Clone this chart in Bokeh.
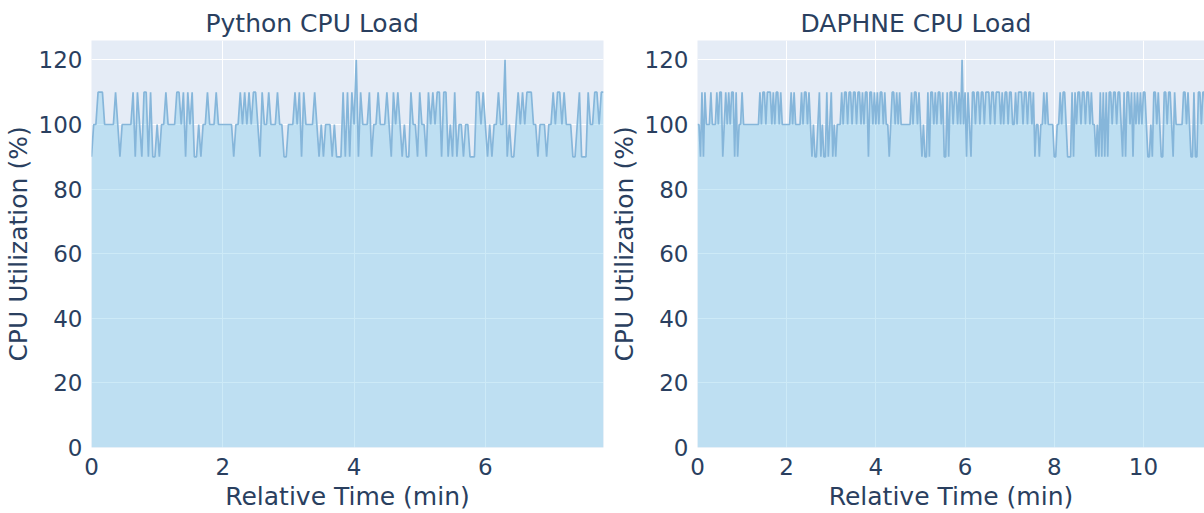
from bokeh.plotting import figure
from bokeh.layouts import row
from bokeh.models import FixedTicker, Range1d
from bokeh.embed import file_html
from bokeh.resources import INLINE

# Sampling interval of the monitoring data (seconds)
SAMPLE_SEC = 2

python_cpu = [
    90, 100, 100, 110, 110, 110, 100, 100, 100, 100,
    100, 110, 100, 90, 100, 100, 100, 100, 100, 110,
    90, 110, 100, 90, 110, 110, 90, 110, 90, 90,
    100, 90, 100, 100, 110, 100, 100, 100, 100, 110,
    110, 100, 110, 90, 110, 100, 110, 90, 90, 100,
    90, 100, 100, 110, 100, 100, 100, 110, 100, 100,
    100, 100, 100, 100, 100, 90, 100, 100, 110, 100,
    110, 100, 110, 100, 110, 110, 100, 90, 110, 100,
    100, 110, 100, 100, 100, 110, 100, 100, 90, 90,
    100, 100, 100, 110, 100, 110, 90, 110, 100, 100,
    100, 100, 110, 100, 90, 100, 90, 100, 100, 100,
    90, 100, 90, 90, 90, 110, 90, 110, 90, 110,
    100, 120, 90, 110, 100, 100, 100, 110, 90, 100,
    100, 110, 100, 100, 100, 110, 100, 90, 110, 100,
    110, 100, 90, 100, 90, 90, 110, 100, 100, 90,
    110, 100, 100, 90, 110, 100, 110, 100, 110, 110,
    90, 110, 110, 90, 100, 90, 110, 90, 100, 100,
    90, 100, 100, 90, 90, 90, 110, 110, 100, 110,
    100, 90, 100, 90, 100, 100, 110, 100, 100, 120,
    90, 100, 90, 90, 100, 110, 100, 110, 100, 110,
    110, 110, 100, 100, 90, 100, 100, 100, 90, 100,
    100, 110, 100, 110, 110, 100, 110, 100, 100, 100,
    90, 90, 100, 110, 90, 90, 90, 110, 100, 100,
    110, 110, 100, 110, 110,
]

daphne_cpu = [
    100, 100, 90, 110, 90, 110, 100, 100, 100, 110,
    100, 100, 100, 110, 100, 110, 110, 90, 100, 110,
    100, 110, 100, 110, 110, 90, 110, 90, 100, 100,
    110, 100, 100, 100, 100, 100, 100, 100, 100, 100,
    100, 100, 110, 100, 110, 110, 100, 110, 110, 110,
    100, 110, 100, 110, 110, 100, 110, 100, 100, 100,
    100, 100, 100, 110, 100, 110, 100, 100, 100, 100,
    110, 100, 110, 110, 100, 110, 100, 90, 100, 90,
    90, 100, 110, 90, 100, 90, 90, 110, 90, 100,
    110, 90, 100, 90, 100, 100, 100, 110, 100, 110,
    110, 100, 110, 110, 100, 110, 110, 100, 110, 110,
    100, 110, 100, 110, 110, 90, 110, 110, 100, 110,
    100, 110, 100, 110, 110, 100, 110, 100, 100, 90,
    100, 110, 110, 100, 110, 100, 110, 100, 100, 100,
    100, 100, 100, 100, 110, 100, 110, 110, 100, 110,
    100, 90, 100, 90, 90, 110, 90, 110, 110, 100,
    110, 100, 110, 110, 100, 110, 90, 90, 110, 90,
    110, 110, 100, 110, 110, 100, 110, 100, 120, 100,
    110, 90, 110, 100, 90, 110, 110, 100, 110, 110,
    100, 110, 110, 100, 110, 110, 110, 100, 110, 110,
    100, 110, 110, 110, 100, 110, 100, 110, 110, 100,
    110, 110, 100, 100, 110, 100, 110, 110, 110, 100,
    110, 110, 100, 110, 110, 100, 110, 90, 100, 100,
    90, 100, 100, 110, 100, 110, 100, 100, 100, 100,
    90, 90, 100, 100, 110, 100, 110, 110, 100, 90,
    90, 90, 110, 90, 110, 100, 110, 110, 100, 110,
    110, 100, 110, 110, 100, 110, 100, 100, 90, 100,
    90, 110, 90, 110, 90, 110, 90, 110, 110, 100,
    110, 110, 100, 110, 110, 100, 90, 110, 90, 110,
    110, 100, 110, 90, 110, 100, 110, 100, 110, 100,
    110, 110, 100, 90, 90, 100, 90, 110, 110, 100,
    110, 100, 90, 90, 110, 110, 100, 110, 110, 100,
    90, 110, 100, 100, 100, 100, 100, 110, 110, 100,
    110, 100, 90, 90, 110, 90, 90, 110, 110, 100,
    110, 110, 100,
]

titles = ["Python CPU Load", "DAPHNE CPU Load"]
x_label = "Relative Time (min)"
y_label = "CPU Utilization (%)"
y_ticks = [0, 20, 40, 60, 80, 100, 120]
x_ticks_py = [0, 2, 4, 6]
x_ticks_da = [0, 2, 4, 6, 8, 10]

FONT = "DejaVu Sans"
TXT = "#2a3f5f"
BG = "#E5ECF6"
FILL = "#87CEEB"
LINE = "#86B6DA"


def make_panel(title, vals, x_end, x_ticks, width, left_border, right_border, title_offset):
    t = [i * SAMPLE_SEC / 60 for i in range(len(vals))]
    p = figure(width=width, height=513, output_backend="svg", toolbar_location=None,
               x_range=Range1d(0, x_end), y_range=Range1d(0, 126),
               min_border_left=left_border, min_border_right=right_border,
               min_border_top=40, min_border_bottom=65)
    p.title.text = title
    p.title.align = "left"
    p.title.offset = title_offset
    p.title.text_font = FONT
    p.title.text_font_size = "25px"
    p.title.text_font_style = "normal"
    p.title.text_color = TXT
    p.title.standoff = 6

    p.background_fill_color = BG
    p.border_fill_color = "white"
    p.outline_line_color = None

    p.varea(x=t, y1=[0] * len(vals), y2=vals, fill_color=FILL, fill_alpha=0.42)
    p.line(x=t, y=vals, line_color=LINE, line_width=1.7)

    p.xaxis.ticker = FixedTicker(ticks=x_ticks)
    p.yaxis.ticker = FixedTicker(ticks=y_ticks)
    for ax in (p.xaxis[0], p.yaxis[0]):
        ax.axis_line_color = None
        ax.major_tick_line_color = None
        ax.minor_tick_line_color = None
        ax.major_label_text_font = FONT
        ax.major_label_text_font_size = "23px"
        ax.major_label_text_color = TXT
        ax.axis_label_text_font = FONT
        ax.axis_label_text_font_size = "25px"
        ax.axis_label_text_font_style = "normal"
        ax.axis_label_text_color = TXT
    p.xaxis.axis_label = x_label
    p.yaxis.axis_label = y_label
    p.xaxis.major_label_standoff = 4
    p.xaxis.axis_label_standoff = 4
    p.yaxis.major_label_standoff = 3
    p.yaxis.axis_label_standoff = 3

    p.xgrid.ticker = FixedTicker(ticks=x_ticks)
    p.ygrid.ticker = FixedTicker(ticks=y_ticks)
    p.grid.grid_line_color = "white"
    p.grid.grid_line_width = 1
    p.grid.level = "underlay"
    return p


p1 = make_panel(titles[0], python_cpu, 7.8, x_ticks_py, 604, 91, 1, 114)
p2 = make_panel(titles[1], daphne_cpu, 11.37, x_ticks_da, 600, 93, 0, 103)

layout = row(p1, p2)
open("out.html", "w").write(file_html(layout, INLINE))
